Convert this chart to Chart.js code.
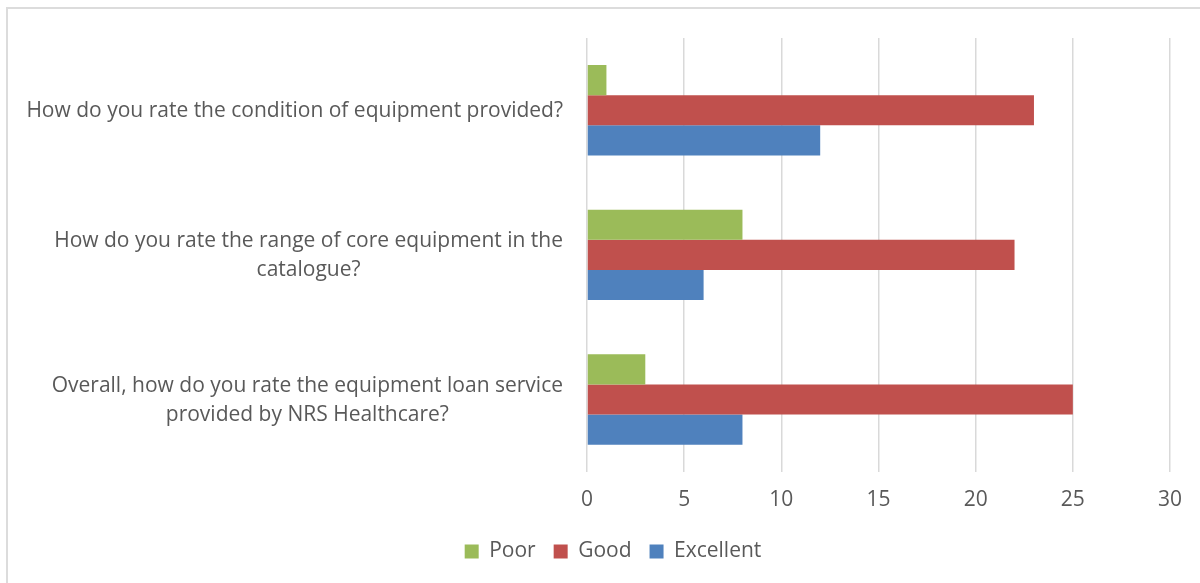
<!DOCTYPE html>
<html>
<head>
<meta charset="utf-8">
<script src="https://cdn.jsdelivr.net/npm/chart.js@4"></script>
<style>
	html, body { margin: 0; padding: 0; background: #fff; overflow: hidden; }
	#frame {
		position: absolute; left: 6px; top: 7px;
		width: 1300px; height: 700px;
		border: 2px solid #dcdcdc;
	}
	#chart { position: absolute; left: 0; top: 0; }
</style>
</head>
<body>
<div id="frame"></div>
<canvas id="chart" width="1200" height="583"></canvas>
<script>
	// Survey questions (one line per entry) and answer counts
	var questions = [
		['How do you rate the condition of equipment provided?'],
		['How do you rate the range of core equipment in the', 'catalogue?'],
		['Overall, how do you rate the equipment loan service', 'provided by NRS Healthcare?'],
	];
	var seriesNames = ['Poor', 'Good', 'Excellent'];
	var poor = [1, 8, 3];
	var good = [23, 22, 25];
	var excellent = [12, 6, 8];
	var xTicks = [0, 5, 10, 15, 20, 25, 30];

	var textColor = '#595959';
	var fontFamily = '"Open Sans", "Liberation Sans", sans-serif';
	var fontSize = 21;

	// Question labels are right-aligned to the axis, each line centred in its block
	var questionLabels = {
		id: 'questionLabels',
		afterDraw: function (chart) {
			var scale = chart.scales.y;
			var ctx = chart.ctx;
			var gap = 24;
			var lineHeight = 29;
			ctx.save();
			ctx.font = fontSize + 'px ' + fontFamily;
			ctx.fillStyle = textColor;
			ctx.textAlign = 'center';
			ctx.textBaseline = 'middle';
			for (var i = 0; i < questions.length; i++) {
				var lines = questions[i];
				var widest = 0;
				for (var j = 0; j < lines.length; j++) {
					widest = Math.max(widest, ctx.measureText(lines[j]).width);
				}
				var cx = chart.chartArea.left - gap - widest / 2;
				var cy = scale.getPixelForTick(i) + 1;
				for (j = 0; j < lines.length; j++) {
					ctx.fillText(lines[j], cx, cy + (j - (lines.length - 1) / 2) * lineHeight);
				}
			}
			ctx.restore();
		},
	};

	new Chart(document.getElementById('chart'), {
		type: 'bar',
		data: {
			labels: questions,
			datasets: [
				{ label: seriesNames[0], data: poor, backgroundColor: '#9BBB59' },
				{ label: seriesNames[1], data: good, backgroundColor: '#C0504D' },
				{ label: seriesNames[2], data: excellent, backgroundColor: '#4F81BD' },
			],
		},
		options: {
			indexAxis: 'y',
			responsive: false,
			animation: false,
			devicePixelRatio: 1,
			datasets: {
				bar: {
					categoryPercentage: 0.625,
					barPercentage: 1,
					borderWidth: 0,
				},
			},
			layout: {
				padding: { left: 56, right: 30, top: 38, bottom: 11 },
			},
			plugins: {
				legend: {
					position: 'bottom',
					labels: {
						boxWidth: 14,
						boxHeight: 14,
						padding: 18,
						color: textColor,
						font: { family: fontFamily, size: fontSize },
					},
				},
				tooltip: { enabled: false },
			},
			scales: {
				x: {
					min: 0,
					max: 30,
					afterBuildTicks: function (scale) {
						scale.ticks = xTicks.map(function (v) {
							return { value: v };
						});
					},
					afterFit: function (scale) {
						scale.height -= 6;
					},
					grid: {
						color: '#d9d9d9',
						lineWidth: 1.5,
						drawTicks: false,
					},
					border: { display: false },
					ticks: {
						padding: 16,
						color: textColor,
						font: { family: fontFamily, size: fontSize },
					},
				},
				y: {
					grid: { display: false },
					border: { display: false },
					ticks: { display: false },
					afterFit: function (scale) {
						scale.width = 587 - 56;
					},
				},
			},
		},
		plugins: [questionLabels],
	});
</script>
</body>
</html>
